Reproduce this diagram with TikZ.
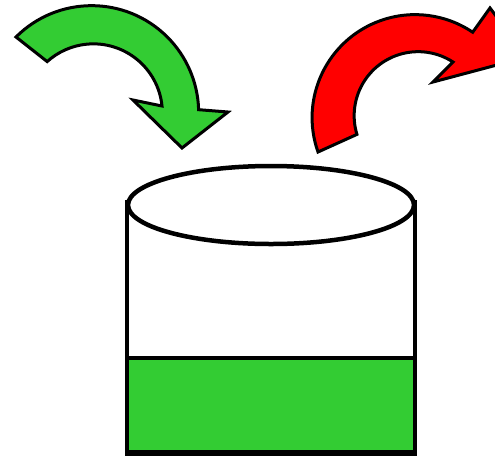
\documentclass[tikz,border=0pt]{standalone}
\definecolor{lgreen}{RGB}{51,204,51}
\tikzset{
  arrowshape/.style={draw=black, line width=3pt, line join=miter},
  cyl/.style={draw=black, line width=4.5pt},
}
\begin{document}
\begin{tikzpicture}[x=1pt,y=1pt]
\useasboundingbox (0,0) rectangle (495,-459);
\clip (0,0) rectangle (495,-459);
% green arrow (in)
\draw[arrowshape, fill=lgreen] (16,-37) arc[start angle=135,end angle=1.6,radius=107]
  -- (228,-112) -- (182,-148) -- (133,-100) -- (162,-106)
  arc[start angle=5.7,end angle=132,radius=69] -- cycle;
% red arrow (out)
\draw[arrowshape, fill=red] (318,-152) arc[start angle=199.5,end angle=56,radius=103]
  -- (490,-8) -- (527,-57) -- (433,-82) -- (453,-62)
  arc[start angle=57,end angle=197,radius=64] -- cycle;
% cylinder
\fill[lgreen] (127,-358) rectangle (415,-453);
\draw[cyl] (127,-358) -- (415,-358);
\draw[cyl] (127,-200) -- (127,-454);
\draw[cyl] (415,-200) -- (415,-454);
\draw[draw=black, line width=6pt] (125,-453) -- (417,-453);
\draw[cyl, fill=white] (271,-205) ellipse[x radius=143, y radius=39];
\end{tikzpicture}
\end{document}
